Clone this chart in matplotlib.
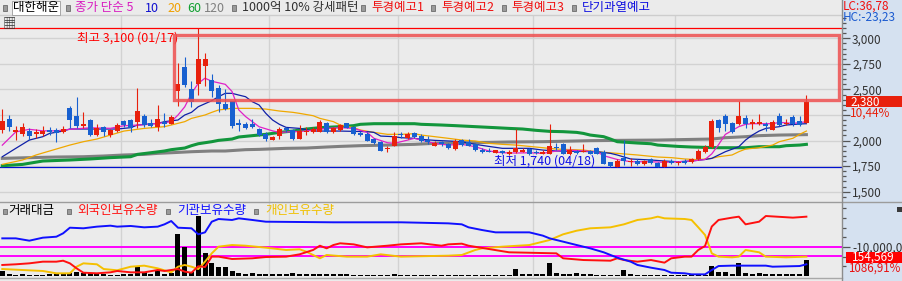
"""Daily candle chart of 대한해운 with moving averages and a holdings sub-panel."""

import matplotlib

matplotlib.use("Agg")
import matplotlib.pyplot as plt
from matplotlib.lines import Line2D
from matplotlib.patches import Rectangle
from matplotlib.ticker import FixedLocator

plt.rcParams["font.family"] = ["Noto Sans CJK KR", "DejaVu Sans"]
plt.rcParams["axes.unicode_minus"] = False

W, H = 903, 281

# ---- daily prices (won) ----
opens = [
    2100, 2210, 2080, 2065, 2095, 2060, 2065, 2105, 2105, 2085,
    2320, 2245, 2145, 2205, 2055, 2135, 2050, 2095, 2195, 2200,
    2185, 2245, 2175, 2135, 2185, 2165, 2480, 2720, 2505, 2555,
    2730, 2590, 2515, 2360, 2385, 2175, 2165, 2165, 2115, 2065,
    2010, 2040, 2125, 2100, 2020, 2080, 2085, 2085, 2170, 2085,
    2100, 2170, 2130, 2075, 2065, 2015, 1990, 1915, 1950, 2065,
    2030, 2075, 2040, 2010, 1950, 1990, 1970, 1915, 2005, 1990,
    1970, 1910, 1900, 1880, 1900, 1865, 1885, 1890, 1920, 1885,
    1870, 1870, 1935, 1970, 1865, 1900, 1890, 1900, 1925, 1890,
    1790, 1740, 1830, 1790, 1805, 1775, 1815, 1785, 1745, 1805,
    1780, 1805, 1795, 1815, 1890, 1935, 2200, 2245, 2170, 2160,
    2220, 2165, 2165, 2165, 2105, 2245, 2160, 2230, 2190, 2175,
]
highs = [
    2308, 2250, 2140, 2170, 2120, 2115, 2140, 2130, 2125, 2140,
    2335, 2430, 2275, 2210, 2160, 2140, 2115, 2170, 2200, 2210,
    2515, 2255, 2210, 2350, 2265, 2250, 2755, 2815, 2580, 3100,
    2855, 2650, 2545, 2505, 2390, 2210, 2185, 2210, 2120, 2085,
    2045, 2130, 2135, 2115, 2150, 2130, 2130, 2200, 2180, 2135,
    2165, 2175, 2140, 2095, 2080, 2030, 1995, 1950, 2080, 2080,
    2080, 2080, 2065, 2045, 2000, 1995, 1980, 2015, 2020, 2020,
    1975, 1930, 1930, 1905, 1905, 1905, 2115, 1925, 1930, 1905,
    1905, 2160, 1980, 1975, 1945, 1905, 1970, 1905, 1935, 1905,
    1795, 1815, 2005, 1830, 1820, 1810, 1825, 1795, 1815, 1815,
    1805, 1815, 1825, 1915, 1955, 2215, 2215, 2255, 2180, 2385,
    2250, 2210, 2260, 2180, 2205, 2265, 2215, 2250, 2240, 2445,
]
lows = [
    2070, 2095, 2005, 2045, 2005, 2030, 2040, 2055, 1990, 2070,
    2120, 2120, 2125, 2045, 2040, 2040, 2035, 2080, 2135, 2085,
    2120, 2135, 2130, 2095, 2135, 2160, 2340, 2525, 2330, 2445,
    2535, 2430, 2275, 2300, 2125, 2095, 2110, 2120, 2040, 2000,
    2005, 2020, 2085, 2010, 2015, 2050, 2075, 2080, 2075, 2075,
    2095, 2120, 2055, 2040, 1995, 1970, 1895, 1890, 1945, 2030,
    2020, 2030, 1990, 1970, 1945, 1950, 1915, 1910, 1950, 1945,
    1900, 1880, 1885, 1875, 1870, 1860, 1880, 1885, 1860, 1865,
    1865, 1865, 1905, 1865, 1860, 1870, 1885, 1865, 1870, 1770,
    1745, 1740, 1760, 1755, 1765, 1765, 1775, 1745, 1745, 1770,
    1760, 1775, 1785, 1810, 1880, 1930, 2085, 2095, 2075, 2150,
    2125, 2115, 2150, 2095, 2100, 2145, 2150, 2145, 2140, 2175,
]
closes = [
    2190, 2135, 2105, 2130, 2040, 2080, 2090, 2080, 2070, 2115,
    2200, 2145, 2165, 2050, 2120, 2085, 2100, 2155, 2150, 2120,
    2290, 2150, 2140, 2210, 2160, 2230, 2550, 2545, 2380, 2795,
    2800, 2480, 2355, 2310, 2145, 2155, 2125, 2132, 2050, 2020,
    2035, 2115, 2100, 2020, 2095, 2095, 2115, 2180, 2080, 2125,
    2150, 2125, 2060, 2050, 2000, 1980, 1900, 1925, 2040, 2050,
    2065, 2035, 1995, 1985, 1980, 1970, 1925, 2000, 1955, 1950,
    1905, 1885, 1890, 1905, 1880, 1890, 1925, 1905, 1865, 1875,
    1890, 1945, 1925, 1870, 1910, 1875, 1900, 1872, 1870, 1775,
    1750, 1805, 1805, 1805, 1775, 1803, 1780, 1745, 1805, 1778,
    1795, 1785, 1815, 1900, 1940, 2190, 2125, 2165, 2085, 2240,
    2160, 2180, 2180, 2145, 2180, 2150, 2170, 2165, 2155, 2380,
]

# ---- moving averages (day index, won) ----
ma5_idx = [0, 2, 4, 6, 8, 10, 13, 16, 18, 21, 24, 25, 26, 27, 28, 29, 30, 31, 33, 34,
           35, 36, 37, 38, 40, 41, 43, 45, 46, 48, 50, 52, 54, 55, 57, 58, 60, 61, 62, 64,
           66, 68, 70, 72, 74, 76, 78, 80, 82, 84, 86, 88, 89, 91, 93, 96, 98, 100, 102, 104,
           105, 106, 107, 109, 110, 111, 114, 115, 117, 118, 119]
ma5_val = [1955, 2085, 2110, 2095, 2095, 2110, 2125, 2120, 2145, 2155, 2175, 2185, 2250, 2330, 2460,
           2560, 2610, 2580, 2550, 2480, 2300, 2235, 2185, 2135, 2095, 2080, 2087, 2093, 2103, 2119,
           2126, 2119, 2080, 2022, 1979, 1973, 2005, 2022, 2005, 1973, 1956, 1963, 1940, 1898, 1881,
           1878, 1881, 1875, 1898, 1907, 1898, 1891, 1852, 1815, 1793, 1793, 1787, 1793, 1800, 1815,
           1870, 1960, 2060, 2136, 2159, 2165, 2165, 2178, 2168, 2175, 2185]

ma10_idx = [0, 2, 4, 6, 7, 9, 10, 17, 19, 20, 23, 24, 26, 27, 28, 29, 31, 32, 33, 34,
            35, 36, 37, 38, 39, 40, 41, 42, 44, 46, 50, 54, 55, 56, 58, 59, 61, 62, 64, 66,
            68, 70, 72, 74, 78, 80, 82, 88, 90, 91, 93, 96, 98, 100, 102, 104, 105, 107, 109, 110,
            111, 112, 113, 115, 116, 118, 119]
ma10_val = [1842, 1924, 2005, 2038, 2070, 2093, 2113, 2113, 2126, 2152, 2168, 2185, 2201, 2250, 2276,
            2331, 2390, 2429, 2462, 2462, 2445, 2429, 2380, 2348, 2266, 2201, 2159, 2129, 2119, 2093,
            2093, 2087, 2080, 2044, 2038, 2028, 2022, 2012, 2002, 1996, 1989, 1963, 1943, 1924, 1924,
            1907, 1898, 1891, 1875, 1859, 1820, 1810, 1800, 1793, 1800, 1815, 1826, 1891, 1940, 2005,
            2054, 2093, 2119, 2136, 2152, 2162, 2165]

ma20_idx = [0, 3, 5, 7, 10, 12, 14, 16, 18, 21, 24, 25, 27, 28, 30, 31, 32, 34, 37, 39,
            41, 43, 44, 46, 47, 49, 50, 52, 53, 55, 57, 59, 61, 62, 64, 66, 68, 70, 72, 74,
            76, 78, 80, 82, 86, 88, 91, 94, 97, 99, 101, 103, 105, 106, 108, 109, 110, 112, 114, 115,
            117, 118, 119]
ma20_val = [1767, 1810, 1859, 1898, 1956, 1989, 2015, 2054, 2093, 2119, 2136, 2152, 2185, 2217, 2250,
            2276, 2299, 2315, 2315, 2308, 2289, 2276, 2266, 2243, 2217, 2185, 2152, 2126, 2103, 2080,
            2061, 2061, 2067, 2054, 2038, 2022, 2005, 1996, 1973, 1963, 1956, 1943, 1930, 1917, 1907,
            1891, 1875, 1859, 1839, 1833, 1820, 1813, 1826, 1842, 1859, 1891, 1917, 1930, 1956, 1989,
            2022, 2061, 2093]

ma60_idx = [0, 3, 6, 10, 13, 16, 19, 20, 22, 24, 25, 27, 28, 29, 31, 32, 34, 35, 37, 39,
            41, 43, 45, 47, 50, 52, 53, 55, 61, 62, 65, 67, 70, 73, 75, 77, 79, 81, 83, 85,
            86, 87, 89, 90, 91, 94, 96, 97, 100, 102, 106, 110, 112, 115, 116, 118, 119]
ma60_val = [1754, 1767, 1800, 1810, 1820, 1833, 1842, 1865, 1881, 1898, 1911, 1927, 1950, 1969, 1989,
            2002, 2015, 2035, 2048, 2061, 2080, 2093, 2113, 2126, 2136, 2146, 2159, 2165, 2165, 2159,
            2152, 2146, 2136, 2126, 2119, 2113, 2100, 2090, 2087, 2080, 2070, 2054, 2038, 2015, 1989,
            1976, 1969, 1956, 1943, 1937, 1930, 1930, 1940, 1940, 1950, 1956, 1963]

ma120_idx = [0, 4, 8, 12, 15, 18, 21, 23, 25, 28, 31, 33, 36, 38, 42, 45, 48, 50, 53, 57,
             61, 64, 68, 72, 75, 80, 85, 87, 91, 97, 105, 107, 110, 112, 115, 119]
ma120_val = [1826, 1833, 1839, 1842, 1849, 1859, 1865, 1875, 1881, 1891, 1898, 1898, 1911, 1914, 1924,
             1927, 1937, 1943, 1950, 1956, 1963, 1973, 1979, 1982, 1986, 1989, 1996, 1999, 2002, 2005,
             2015, 2028, 2038, 2048, 2054, 2058]

# month starts sit between these day indices
month_breaks = [17.5, 39.5, 58.5, 78.5, 99.5]

high_price, low_price = 3100, 1740
# highlighted price zone (day index range, won range)
zone_start, zone_end = 25.4, 123.8
zone_low, zone_high = 2400, 3037

# ---- sub-panel (relative scale, 0 = panel floor) ----
turnover = [
    6.7, 2.5, 2, 2.5, 2, 2, 2, 2.5, 3, 2.5,
    4.5, 5, 4, 4, 3, 2.5, 2, 2, 2.5, 2.5,
    13.5, 5, 3, 6.5, 3, 3.5, 56, 39, 6, 80,
    31, 18, 12.5, 12.5, 7, 4.5, 2.5, 3.5, 2.5, 2.5,
    2.5, 2.5, 2.5, 3.5, 3, 2.5, 2.5, 3, 2.5, 2.5,
    2.5, 2.5, 2, 2, 2, 2, 2, 2, 3, 2,
    2, 2, 2, 2, 2, 2, 2, 2, 2, 2,
    2, 2, 2, 2, 2, 2, 9.3, 2.5, 2.5, 2.5,
    2.5, 17.3, 3.5, 3, 3, 4, 3, 2.5, 2, 2,
    2, 2, 7.6, 2.5, 2, 2, 2, 2, 2, 2,
    2, 2, 2, 2, 2, 13.3, 5, 5, 2.5, 17,
    3.5, 3, 3.5, 3, 3, 3, 3, 3, 3, 21.3,
]

inst_idx = [0, 2, 4, 6, 8, 9, 10, 12, 14, 16, 17, 19, 21, 23, 24, 25, 26, 28, 29, 30,
            31, 32, 34, 35, 37, 39, 49, 59, 66, 68, 69, 71, 73, 78, 80, 81, 83, 85, 87, 89,
            91, 93, 94, 96, 98, 99, 101, 102, 104, 105, 106, 108, 113, 114, 118, 119]
inst_val = [50.2, 50.2, 47.1, 51.1, 52.4, 56.9, 64.4, 63.6, 65.8, 67.1, 65.8, 66.7, 64.9, 65.8,
            68.9, 73.3, 64.4, 63.6, 55.6, 58.2, 72.4, 76.0, 74.7, 76.9, 74.7, 72.4, 71.6, 71.6,
            70.2, 68.9, 64.9, 61.3, 58.2, 58.2, 53.8, 50.2, 45.8, 41.3, 36.9, 31.6, 24.5, 19.1,
            14.7, 11.1, 8.0, 4.4, 3.6, 2.2, 2.2, 8.0, 13.3, 13.8, 13.8, 12.4, 13.3, 15.6]

frgn_idx = [0, 2, 4, 6, 8, 9, 10, 11, 12, 14, 16, 17, 19, 21, 23, 24, 26, 27, 28, 29,
            30, 31, 32, 34, 37, 39, 42, 44, 46, 47, 48, 49, 50, 52, 54, 57, 59, 62, 65, 66,
            68, 69, 72, 75, 82, 83, 86, 90, 91, 92, 94, 96, 98, 99, 101, 102, 103, 104, 105, 106,
            108, 109, 110, 112, 113, 117, 119]
frgn_val = [14.7, 15.6, 16.9, 19.1, 19.1, 20.4, 16.9, 10.2, 4.4, 3.6, 4.9, 6.7, 4.9, 4.9, 8.0,
            6.7, 9.3, 5.8, 4.4, 13.0, 12.0, 25.8, 25.8, 22.7, 23.6, 25.3, 25.8, 28.9, 34.7, 40.4,
            36.9, 41.3, 43.6, 42.2, 38.2, 40.4, 42.2, 43.6, 40.4, 42.2, 43.1, 40.4, 36.0, 31.6, 30.2,
            23.6, 21.3, 20.4, 23.6, 21.3, 19.1, 21.3, 17.8, 23.6, 25.8, 25.8, 34.7, 40.0, 66.0, 74.7,
            77.8, 79.1, 68.9, 72.4, 80.0, 77.8, 79.1]

indiv_idx = [0, 3, 6, 8, 10, 11, 12, 14, 15, 17, 19, 21, 23, 25, 26, 27, 28, 29, 30, 31,
             32, 34, 36, 39, 42, 44, 45, 47, 48, 51, 54, 56, 59, 66, 68, 70, 71, 74, 78, 81,
             83, 85, 87, 90, 92, 94, 96, 97, 98, 101, 102, 103, 104, 105, 106, 108, 109, 110, 112, 113,
             116, 119]
indiv_val = [9.3, 8.0, 6.7, 3.6, 3.6, 12.4, 16.9, 15.6, 9.3, 7.6, 12.4, 13.8, 10.2, 4.9, 12.4,
             14.7, 12.4, 9.3, 19.1, 30.2, 39.1, 41.3, 40.4, 37.8, 34.7, 35.6, 32.4, 23.6, 28.0, 25.8,
             25.8, 28.9, 25.8, 27.1, 28.0, 34.7, 36.9, 39.1, 41.3, 48.0, 55.6, 60.4, 63.6, 64.9, 68.9,
             74.7, 76.9, 79.1, 76.9, 76.0, 74.7, 64.9, 54.7, 30.2, 25.8, 24.9, 25.8, 34.7, 31.6, 25.8,
             24.9, 25.8]

signal_levels = [39.1, 27.1]

CHART_BG = "#ebebeb"
PANEL_BG = "#d5e1f0"
GRID = "#d2d2d2"
UP = "#e8200c"
DOWN = "#1860d0"
FS = 8.5
HEAD_FS = 9


def fig_line(fig, x0, x1, y0, y1, color, lw=1.0):
    fig.add_artist(Line2D([x0 / W, x1 / W], [1 - y0 / H, 1 - y1 / H],
                          color=color, lw=lw, transform=fig.transFigure))


def fig_rect(fig, x, y, w, h, **kw):
    fig.add_artist(Rectangle((x / W, 1 - (y + h) / H), w / W, h / H,
                             transform=fig.transFigure, **kw))


def fig_text(fig, x, y, s, **kw):
    kw.setdefault("fontsize", FS)
    fig.text(x / W, 1 - y / H, s, ha="left", va="center", **kw)


def bullet(fig, x, y):
    fig_rect(fig, x, y - 2.5, 4, 5, facecolor="#9a9a9a", edgecolor="#5a5a5a", lw=0.5)


fig = plt.figure(figsize=(W / 100, H / 100), dpi=100, facecolor=PANEL_BG)
ax = fig.add_axes([0, 1 - 201 / H, 842 / W, (201 - 15) / H], facecolor=CHART_BG)
ax2 = fig.add_axes([0, 1 - 277 / H, 842 / W, (277 - 201) / H], facecolor=CHART_BG)

days = list(range(len(closes)))
xlim = (-0.34, 124.27)

# ---- price panel ----
ax.set_xlim(*xlim)
ax.set_ylim(1409, 3228)
for level in range(1500, 3001, 250):
    ax.axhline(level, color=GRID, lw=1.0, zorder=0.5)
for m in month_breaks:
    ax.axvline(m, color=GRID, lw=1.0, zorder=0.5)
ax.axhline(high_price, color="#ff0000", lw=0.9, zorder=1)
ax.axhline(low_price, color="#0010d0", lw=0.9, zorder=1)

ax.plot(ma120_idx, ma120_val, color="#808080", lw=2.2, zorder=2)
ax.plot(ma60_idx, ma60_val, color="#12963c", lw=2.2, zorder=2)
ax.plot(ma20_idx, ma20_val, color="#f0a800", lw=0.9, zorder=2.2)
ax.plot(ma10_idx, ma10_val, color="#1020a8", lw=0.9, zorder=2.3)
ax.plot(ma5_idx, ma5_val, color="#e020c8", lw=0.9, zorder=2.4)

colors = [UP if c >= o else DOWN for o, c in zip(opens, closes)]
bottoms = [min(o, c) for o, c in zip(opens, closes)]
heights = [max(abs(c - o), 10) for o, c in zip(opens, closes)]
ax.vlines(days, lows, highs, colors=colors, lw=0.8, zorder=3)
ax.bar(days, heights, bottom=bottoms, width=0.74, color=colors, lw=0, zorder=3.5)

ax.add_patch(Rectangle((zone_start, zone_low), zone_end - zone_start, zone_high - zone_low,
                       fill=False, edgecolor="#ee4f4f", lw=2.4, alpha=0.85, zorder=4))
ax.text(26.0, 3003, "최고 3,100 (01/17)", color="#ff0000", fontsize=9,
        ha="right", va="center", zorder=3.8)
ax.text(87.7, 1804, "최저 1,740 (04/18)", color="#1010e8", fontsize=9,
        ha="right", va="center", zorder=5)

for s in ax.spines.values():
    s.set_visible(False)
ax.set_xticks([])
ax.yaxis.tick_right()
major = [1500, 1750, 2000, 2250, 2500, 2750, 3000]
ax.set_yticks(major)
ax.set_yticklabels(["" if v == 2250 else f"{v:,}" for v in major])
ax.yaxis.set_minor_locator(FixedLocator([v for v in range(1450, 3201, 50) if v % 250]))
ax.tick_params(axis="y", which="major", length=6, width=0.9, color="#555555",
               pad=1.2, labelsize=FS, labelcolor="#333333")
ax.tick_params(axis="y", which="minor", length=3, width=0.9, color="#555555")

# ---- holdings sub-panel ----
ax2.set_xlim(*xlim)
ax2.set_ylim(-1.33, 100)
for m in month_breaks:
    ax2.axvline(m, color=GRID, lw=1.0, zorder=0.5)
for lv in signal_levels:
    ax2.axhline(lv, color="#ff00ff", lw=1.4, zorder=1)
ax2.bar(days, turnover, width=0.74, color="black", lw=0, zorder=2)
ax2.plot(indiv_idx, indiv_val, color="#f5c000", lw=1.4, zorder=3)
ax2.plot(frgn_idx, frgn_val, color="#ff1010", lw=1.4, zorder=3.1)
ax2.plot(inst_idx, inst_val, color="#1010ff", lw=1.4, zorder=3.2)
for s in ax2.spines.values():
    s.set_visible(False)
ax2.set_xticks([])
ax2.yaxis.tick_right()
ax2.set_yticks([38.7])
ax2.set_yticklabels(["-10,000,000"])
ax2.yaxis.set_minor_locator(FixedLocator([90.3, 77.4, 64.5, 51.6, 25.8, 12.9]))
ax2.tick_params(axis="y", which="major", length=6, width=0.9, color="#555555",
                pad=1.2, labelsize=FS, labelcolor="#333333")
ax2.tick_params(axis="y", which="minor", length=3, width=0.9, color="#555555")

# ---- frame pieces ----
fig_rect(fig, 0, 0, 842, 15, facecolor=CHART_BG, edgecolor="none")
fig_rect(fig, 0, 277, 842, 4, facecolor=CHART_BG, edgecolor="none")
fig_line(fig, 0, 842, 14.5, 14.5, "#cdcdcd")
fig_line(fig, 0, W, 201.5, 201.5, "#9c9c9c")
fig_line(fig, 0, 842, 277.5, 277.5, "#a8a8a8")
fig_line(fig, 842.5, 842.5, 0, H, "#8c8c8c")

# header legend
bullet(fig, 3, 8)
fig_text(fig, 13, 8, "대한해운", color="black", fontsize=HEAD_FS,
         bbox=dict(facecolor="white", edgecolor="#9a9a9a", lw=0.6, pad=0.6))
header = [
    (66, None, None),
    (75, "종가 단순 5", "#d81cc0"),
    (145, "10", "#1010d0"),
    (167, "20", "#f0a000"),
    (187, "60", "#10a030"),
    (204, "120", "#808080"),
    (232, None, None),
    (242, "1000억 10% 강세패턴", "#303030"),
    (361, None, None),
    (371, "투경예고1", "#f01010"),
    (431, None, None),
    (441, "투경예고2", "#f01010"),
    (502, None, None),
    (511, "투경예고3", "#f01010"),
    (572, None, None),
    (582, "단기과열예고", "#1010e0"),
]
for x, label, color in header:
    if label is None:
        bullet(fig, x, 8)
    else:
        fig_text(fig, x, 8, label, color=color, fontsize=HEAD_FS)

# sub-panel legend
sub_legend = [
    (3, 8, "거래대금", "black"),
    (67, 77, "외국인보유수량", "#ff1010"),
    (166, 177, "기관보유수량", "#1010ff"),
    (254, 265, "개인보유수량", "#f0c000"),
]
for bx, tx, label, color in sub_legend:
    bullet(fig, bx, 211)
    fig_text(fig, tx, 210.5, label, color=color, fontsize=HEAD_FS)

fig_text(fig, 3, 24, "▦", color="#333333", fontsize=9.5)

# right-hand panel labels
fig_text(fig, 843, 6, "LC:36,78", color="#f01010")
fig_text(fig, 843, 17.5, "HC:-23,23", color="#1a5ad0")

_, yc = ax.transData.transform((0, closes[-1]))
yc = H - yc
fig_rect(fig, 846.5, yc - 5.5, 56.5, 11.2, facecolor=UP, edgecolor="none")
fig_text(fig, 850, yc + 0.1, f"{closes[-1]:,}", color="white")
fig_text(fig, 850, yc + 11.8, "10,44%", color=UP)

fig_rect(fig, 846, 252.3, 57, 10.2, facecolor="#ff0000", edgecolor="none")
fig_text(fig, 852, 257.3, "154,569", color="white")
fig_text(fig, 848, 268.6, "1086,91%", color="#e81010", fontsize=8.3)
fig_rect(fig, 897, 207, 5, 5, facecolor="#3a3a3a", edgecolor="none")

fig.savefig("out.png", dpi=100, facecolor=fig.get_facecolor())
